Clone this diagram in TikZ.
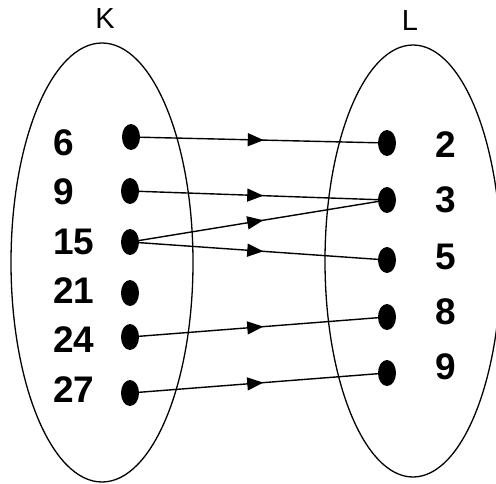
\documentclass[tikz,border=0pt]{standalone}
\usepackage{fontspec}
\setmainfont{Liberation Sans}
\usetikzlibrary{arrows.meta,decorations.markings,shapes.geometric}

\tikzset{
  titik/.style={ellipse,fill=black,inner sep=0pt,minimum width=18pt,minimum height=26pt},
  angka/.style={anchor=west,inner sep=0pt,font=\fontsize{37}{42}\selectfont\bfseries},
  judul/.style={inner sep=0pt,font=\fontsize{29}{32}\selectfont},
  panah/.style={line width=1.4pt,postaction={decorate},
    decoration={markings,mark=at position 0.52 with {\arrow{Triangle[length=16pt,width=13pt]}}}}
}

\begin{document}
\begin{tikzpicture}[x=1pt,y=-1pt]
    \clip (0,0) rectangle (496,483);

    % Gambar himpunan K dan L
    \draw[line width=1.3pt] (102,262.5) ellipse [x radius=91pt, y radius=219.5pt];
    \draw[line width=1.3pt] (413,261) ellipse [x radius=88pt, y radius=216pt];
    \node[judul] (judulK) at (105,19) {K};
    \node[judul] (judulL) at (410,21) {L};

    % Anggota himpunan K
    \node[angka] (a6) at (53,143) {6};
    \node[angka] (a9) at (53,192) {9};
    \node[angka] (a15) at (53,242) {15};
    \node[angka] (a21) at (53,291) {21};
    \node[angka] (a24) at (53,340) {24};
    \node[angka] (a27) at (53,390) {27};
    \node[titik] (k6) at (131,137) {};
    \node[titik] (k9) at (130,191) {};
    \node[titik] (k15) at (130,242) {};
    \node[titik] (k21) at (130,293) {};
    \node[titik] (k24) at (130,337) {};
    \node[titik] (k27) at (130,393) {};

    % Anggota himpunan L
    \node[angka] (b2) at (435,145) {2};
    \node[angka] (b3) at (435,200) {3};
    \node[angka] (b5) at (435,257) {5};
    \node[angka] (b8) at (435,312) {8};
    \node[angka] (b9) at (435,367) {9};
    \node[titik] (l2) at (387,143) {};
    \node[titik] (l3) at (387,200) {};
    \node[titik] (l5) at (387,260) {};
    \node[titik] (l8) at (387,317) {};
    \node[titik] (l9) at (387,373) {};

    % Gambar panah relasi
    \draw[panah] (k6) -- (l2);
    \draw[panah] (k9) -- (l3);
    \draw[panah] (k15) -- (l3);
    \draw[panah] (k15) -- (l5);
    \draw[panah] (k24) -- (l8);
    \draw[panah] (k27) -- (l9);

\end{tikzpicture}
\end{document}
